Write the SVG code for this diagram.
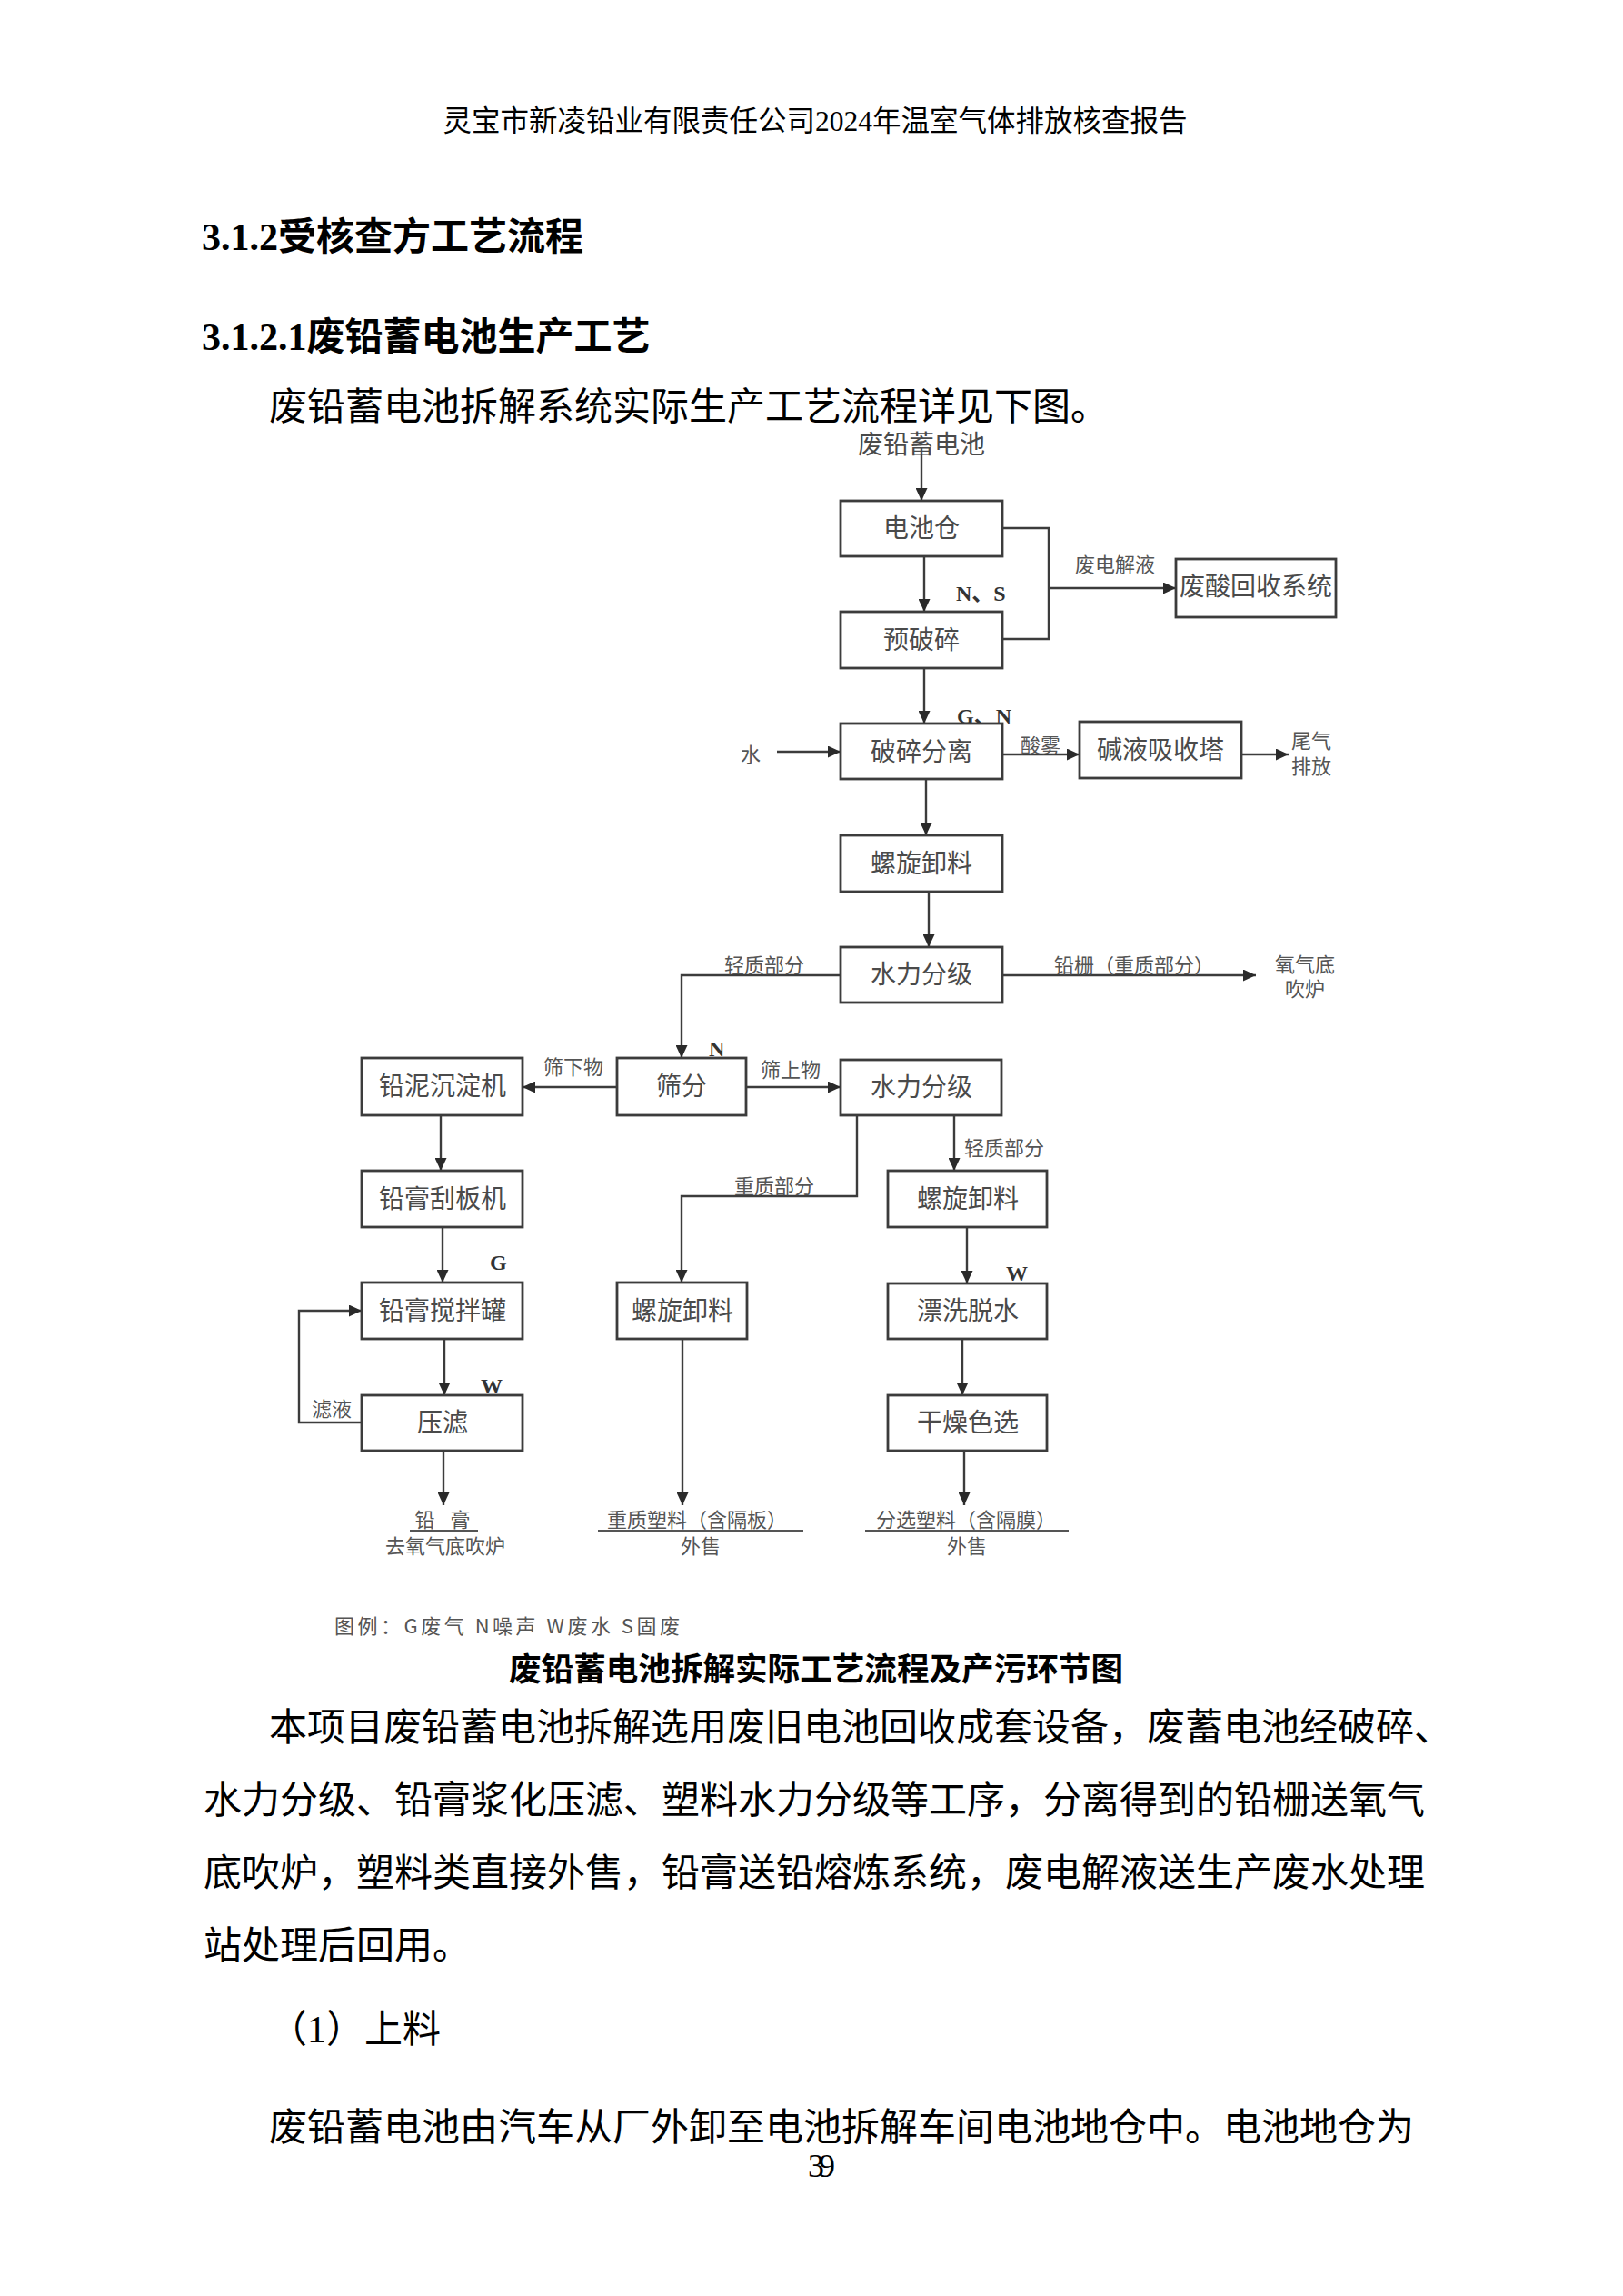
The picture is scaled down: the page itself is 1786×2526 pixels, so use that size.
<svg xmlns="http://www.w3.org/2000/svg" width="1786" height="2526" viewBox="0 0 1786 2526">
<style>
.pg{font-family:"Liberation Serif","Noto Sans CJK SC",serif;fill:#000}
.hd{font-family:"Liberation Serif","Noto Sans CJK SC",serif;font-weight:bold;font-size:42px;fill:#000}
.body{font-family:"Liberation Serif","Noto Sans CJK SC",serif;font-size:42px;fill:#000}
.box{fill:#fff;stroke:#3c3c3c;stroke-width:2.8}
.bt{font-family:"Noto Sans CJK SC",sans-serif;font-size:28px;fill:#4a4a4a;text-anchor:middle}
.sm{font-family:"Noto Sans CJK SC",sans-serif;font-size:22px;fill:#555;text-anchor:middle}
.mk{font-family:"Liberation Serif","Noto Sans CJK SC",serif;font-weight:bold;font-size:24px;fill:#333}
.ln{fill:none;stroke:#3c3c3c;stroke-width:2.4}
.ul{stroke:#555;stroke-width:2}
</style>
<defs>
<marker id="ah" viewBox="0 0 14 13" refX="14" refY="6.5" markerWidth="14" markerHeight="13" markerUnits="userSpaceOnUse" orient="auto">
<path d="M0,0 L14,6.5 L0,13 z" fill="#2a2a2a"/>
</marker>
</defs>
<rect x="0" y="0" width="1786" height="2526" fill="#fff"/>

<g id="page-text">
<text class="pg" x="897" y="144" font-size="31.5" text-anchor="middle">灵宝市新凌铅业有限责任公司2024年温室气体排放核查报告</text>
<text class="hd" x="222" y="275">3.1.2受核查方工艺流程</text>
<text class="hd" x="222" y="385">3.1.2.1废铅蓄电池生产工艺</text>
<text class="body" x="296" y="462">废铅蓄电池拆解系统实际生产工艺流程详见下图。</text>
<text class="pg" x="560" y="1849" font-size="35.6" font-weight="bold">废铅蓄电池拆解实际工艺流程及产污环节图</text>
<text class="body" x="296" y="1915">本项目废铅蓄电池拆解选用废旧电池回收成套设备，废蓄电池经破碎、</text>
<text class="body" x="224" y="1995">水力分级、铅膏浆化压滤、塑料水力分级等工序，分离得到的铅栅送氧气</text>
<text class="body" x="224" y="2075">底吹炉，塑料类直接外售，铅膏送铅熔炼系统，废电解液送生产废水处理</text>
<text class="body" x="224" y="2155">站处理后回用。</text>
<text class="body" x="296" y="2247">（1）上料</text>
<text class="body" x="296" y="2355">废铅蓄电池由汽车从厂外卸至电池拆解车间电池地仓中。电池地仓为</text>
<text class="pg" x="901" y="2395" font-size="36" text-anchor="middle" letter-spacing="-6">39</text>
</g>

<g id="connectors">
<path class="ln" d="M1014,500 V551" marker-end="url(#ah)"/>
<path class="ln" d="M1017,612 V673" marker-end="url(#ah)"/>
<path class="ln" d="M1103,581 H1154 V703 H1103"/>
<path class="ln" d="M1154,647 H1294" marker-end="url(#ah)"/>
<path class="ln" d="M1017,735 V796" marker-end="url(#ah)"/>
<path class="ln" d="M855,827 H925" marker-end="url(#ah)"/>
<path class="ln" d="M1103,830 H1188" marker-end="url(#ah)"/>
<path class="ln" d="M1366,830 H1418" marker-end="url(#ah)"/>
<path class="ln" d="M1019,857 V919" marker-end="url(#ah)"/>
<path class="ln" d="M1022,981 V1042" marker-end="url(#ah)"/>
<path class="ln" d="M1103,1073 H1382" marker-end="url(#ah)"/>
<path class="ln" d="M925,1073 H750 V1164" marker-end="url(#ah)"/>
<path class="ln" d="M679,1196 H575" marker-end="url(#ah)"/>
<path class="ln" d="M821,1196 H925" marker-end="url(#ah)"/>
<path class="ln" d="M943,1227 V1316 H750 V1411" marker-end="url(#ah)"/>
<path class="ln" d="M1050,1227 V1288" marker-end="url(#ah)"/>
<path class="ln" d="M485,1227 V1288" marker-end="url(#ah)"/>
<path class="ln" d="M487,1350 V1411" marker-end="url(#ah)"/>
<path class="ln" d="M489,1473 V1535" marker-end="url(#ah)"/>
<path class="ln" d="M398,1565 H329 V1442 H398" marker-end="url(#ah)"/>
<path class="ln" d="M488,1596 V1656" marker-end="url(#ah)"/>
<path class="ln" d="M751,1473 V1656" marker-end="url(#ah)"/>
<path class="ln" d="M1064,1350 V1412" marker-end="url(#ah)"/>
<path class="ln" d="M1059,1473 V1535" marker-end="url(#ah)"/>
<path class="ln" d="M1061,1596 V1656" marker-end="url(#ah)"/>
</g>

<g id="labels">
<text class="bt" x="1014" y="499">废铅蓄电池</text>
<text class="sm" x="1227" y="629">废电解液</text>
<text class="mk" x="1052" y="661">N、S</text>
<text class="mk" x="1053" y="796">G、N</text>
<text class="sm" x="1145" y="828">酸雾</text>
<text class="sm" x="1443" y="823">尾气</text>
<text class="sm" x="1443" y="851">排放</text>
<text class="sm" x="841" y="1070">轻质部分</text>
<text class="sm" x="826" y="838">水</text>
<text class="sm" x="1248" y="1070">铅栅（重质部分）</text>
<text class="sm" x="1436" y="1069">氧气底</text>
<text class="sm" x="1436" y="1096">吹炉</text>
<text class="mk" x="780" y="1162">N</text>
<text class="sm" x="631" y="1182">筛下物</text>
<text class="sm" x="870" y="1185">筛上物</text>
<text class="sm" x="852" y="1313">重质部分</text>
<text class="sm" x="1105" y="1271">轻质部分</text>
<text class="mk" x="539" y="1397">G</text>
<text class="mk" x="529" y="1533">W</text>
<text class="mk" x="1107" y="1409">W</text>
<text class="sm" x="365" y="1558">滤液</text>
<text class="sm" x="490" y="1680" letter-spacing="6">铅  膏</text>
<line class="ul" x1="451" y1="1684" x2="526" y2="1684"/>
<text class="sm" x="490" y="1709">去氧气底吹炉</text>
<text class="sm" x="767" y="1680">重质塑料（含隔板）</text>
<line class="ul" x1="658" y1="1684" x2="884" y2="1684"/>
<text class="sm" x="771" y="1709">外售</text>
<text class="sm" x="1063" y="1680">分选塑料（含隔膜）</text>
<line class="ul" x1="952" y1="1684" x2="1176" y2="1684"/>
<text class="sm" x="1064" y="1709">外售</text>
<text class="sm" x="368" y="1797" style="text-anchor:start" textLength="380" lengthAdjust="spacing">图例：G废气  N噪声  W废水  S固废</text>
</g>

<g id="n-dianchicang"><rect class="box" x="925" y="551" width="178" height="61"/><text class="bt" x="1014" y="591">电池仓</text></g>
<g id="n-yuposui"><rect class="box" x="925" y="673" width="178" height="62"/><text class="bt" x="1014" y="714">预破碎</text></g>
<g id="n-posuifenli"><rect class="box" x="925" y="796" width="178" height="61"/><text class="bt" x="1014" y="837">破碎分离</text></g>
<g id="n-luoxuan1"><rect class="box" x="925" y="919" width="178" height="62"/><text class="bt" x="1014" y="960">螺旋卸料</text></g>
<g id="n-shuili1"><rect class="box" x="925" y="1042" width="178" height="61"/><text class="bt" x="1014" y="1082">水力分级</text></g>
<g id="n-feisuan"><rect class="box" x="1294" y="615" width="176" height="64"/><text class="bt" x="1382" y="655" font-size="23.5">废酸回收系统</text></g>
<g id="n-jianye"><rect class="box" x="1188" y="794" width="178" height="62"/><text class="bt" x="1277" y="835">碱液吸收塔</text></g>
<g id="n-shaifen"><rect class="box" x="679" y="1164" width="142" height="63"/><text class="bt" x="750" y="1205">筛分</text></g>
<g id="n-qianni"><rect class="box" x="398" y="1164" width="177" height="63"/><text class="bt" x="487" y="1205">铅泥沉淀机</text></g>
<g id="n-shuili2"><rect class="box" x="925" y="1166" width="177" height="61"/><text class="bt" x="1014" y="1206">水力分级</text></g>
<g id="n-guaban"><rect class="box" x="398" y="1288" width="177" height="62"/><text class="bt" x="487" y="1329">铅膏刮板机</text></g>
<g id="n-luoxuan3"><rect class="box" x="977" y="1288" width="175" height="62"/><text class="bt" x="1065" y="1329">螺旋卸料</text></g>
<g id="n-jiaoban"><rect class="box" x="398" y="1411" width="177" height="62"/><text class="bt" x="487" y="1452">铅膏搅拌罐</text></g>
<g id="n-luoxuan2"><rect class="box" x="679" y="1411" width="143" height="62"/><text class="bt" x="751" y="1452">螺旋卸料</text></g>
<g id="n-piaoxi"><rect class="box" x="977" y="1412" width="175" height="61"/><text class="bt" x="1065" y="1452">漂洗脱水</text></g>
<g id="n-yalv"><rect class="box" x="398" y="1535" width="177" height="61"/><text class="bt" x="487" y="1575">压滤</text></g>
<g id="n-ganzao"><rect class="box" x="977" y="1535" width="175" height="61"/><text class="bt" x="1065" y="1575">干燥色选</text></g>
</svg>
